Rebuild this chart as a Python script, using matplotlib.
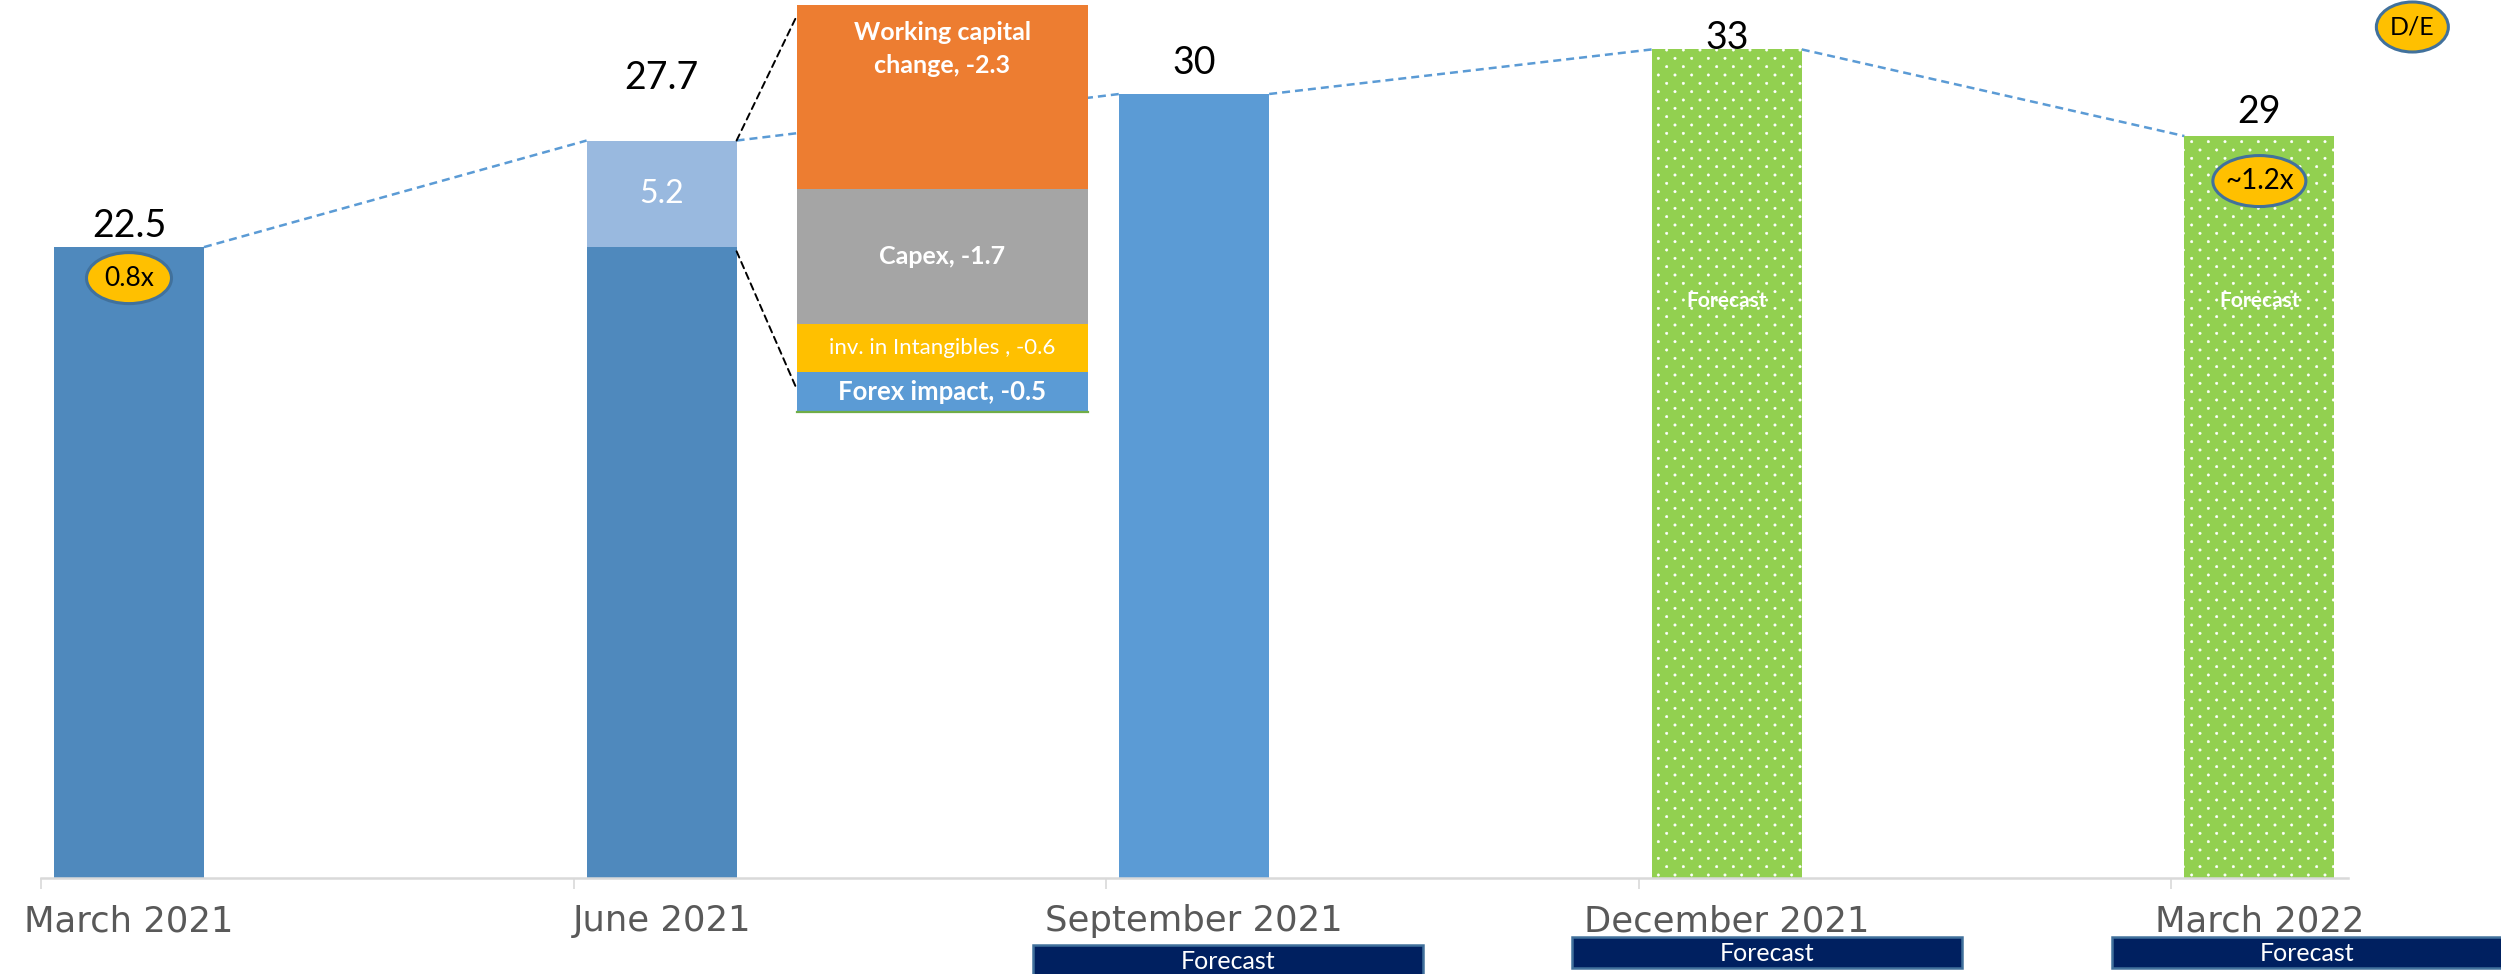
import numpy as np
import matplotlib
matplotlib.use("Agg")
import matplotlib.pyplot as plt
import matplotlib.hatch as mhatch
from matplotlib.patches import Ellipse, Rectangle, ConnectionPatch

# ---------------- data ----------------
periods = ["March 2021", "June 2021", "September 2021", "December 2021", "March 2022"]
value_labels = ["22.5", "27.7", "30", "33", "29"]
# bar tops as drawn in the picture (the original is not strictly to scale)
drawn_heights = [22.5, 26.3, 27.96, 29.55, 26.46]
june_base = 22.5
june_increase_label = "5.2"
forecast_flags = [False, False, True, True, True]
green_forecast = [False, False, False, True, True]

bridge_items = ["Working capital\nchange, -2.3", "Capex, -1.7",
                "inv. in Intangibles , -0.6", "Forex impact, -0.5"]
bridge_values = [-2.3, -1.7, -0.6, -0.5]

de_index = [0, 4]
de_labels = ["0.8x", "~1.2x"]

# ---------------- styles ----------------
W, H = 2501, 974
C_ACT = "#4F89BD"
C_INC = "#99B9DF"
C_SEP = "#5B9BD5"
C_GREEN = "#92D050"
bridge_colors = ["#ED7D31", "#A5A5A5", "#FFC000", "#5B9BD5"]
bridge_bold = [True, True, False, True]
bridge_sizes = [18, 18, 16, 18.5]
NAVY = "#002060"
EDGE = "#41719C"
YEL = "#FFC000"
FONT = ["Lato", "DejaVu Sans"]

plt.rcParams["hatch.linewidth"] = 0.4


# denser, Excel-like 5% dot pattern for the '.' hatch
try:
    class _DenseDots(mhatch.SmallFilledCircles):
        size = 0.07

        def __init__(self, hatch, density):
            super().__init__(hatch, density)
            n = self.num_rows
            if n == 0:
                self.num_shapes = 0
                self.num_vertices = 0
            else:
                self.num_shapes = (n + 1) * (n + 1) + n * n
                self.num_vertices = self.num_shapes * len(self.shape_vertices)

        def set_vertices_and_codes(self, vertices, codes):
            n = self.num_rows
            off = 1.0 / n
            sv = self.shape_vertices * off * self.size
            vp, cp = [], []
            for row in range(2 * n + 1):
                if row % 2 == 0:
                    cols = np.linspace(0, 1, n + 1)
                else:
                    cols = np.linspace(off / 2, 1 - off / 2, n)
                for c in cols:
                    vp.append(sv + [c, row * off / 2])
                    cp.append(self.shape_codes)
            np.concatenate(vp, out=vertices)
            np.concatenate(cp, out=codes)

    _idx = mhatch._hatch_types.index(mhatch.SmallFilledCircles)
    mhatch._hatch_types[_idx] = _DenseDots
except Exception:
    pass

fig = plt.figure(figsize=(W / 100, H / 100), dpi=100)
base_px = 96  # axis position from bottom in pixels
ax = fig.add_axes([0, base_px / H, 1, (H - base_px) / H])
ax.set_xlim(-0.2422, 4.4537)
ax.set_ylim(0, (H - base_px) / 28.04)
ax.patch.set_alpha(0)

x = np.arange(len(periods))
bw = 0.2816

# base bars
base_heights = [drawn_heights[0], june_base, drawn_heights[2]]
ax.bar(x[:3], base_heights, width=bw, color=[C_ACT, C_ACT, C_SEP], zorder=2)
ax.bar(x[1], drawn_heights[1] - june_base, bottom=june_base, width=bw,
       color=C_INC, zorder=2)
gx = [xi for xi, g in zip(x, green_forecast) if g]
gh = [h for h, g in zip(drawn_heights, green_forecast) if g]
ax.bar(gx, gh, width=bw, color=C_GREEN, edgecolor="white", linewidth=0,
       hatch=".", zorder=2)

# dashed trend line joining bar tops
for i in range(len(x) - 1):
    ax.plot([x[i] + bw / 2, x[i + 1] - bw / 2],
            [drawn_heights[i], drawn_heights[i + 1]],
            ls=(0, (3.2, 2.0)), color="#5B9BD5", lw=1.8, zorder=1)

# value labels
label_gap_px = [10, 52, 20, 0, 13]
for i, lab in enumerate(value_labels):
    ax.annotate(lab, (x[i], drawn_heights[i]), xytext=(0, label_gap_px[i] * 0.72),
                textcoords="offset points", ha="center", va="baseline",
                fontsize=27, family=FONT, color="black", zorder=5)
ax.text(x[1], (june_base + drawn_heights[1]) / 2, june_increase_label,
        ha="center", va="center", fontsize=23, color="white", family=FONT, zorder=5)

# "Forecast" text inside green bars
for xi in gx:
    ax.text(xi, 20.58, "Forecast", ha="center", va="center", fontsize=15,
            fontweight="bold", color="white", family=FONT, zorder=5)

# x axis
ax.set_xticks(x, periods)
ax.tick_params(axis="x", length=0, pad=19, labelsize=25.5, labelcolor="#595959")
ax.set_xticks(x - 0.1652, minor=True)
ax.tick_params(axis="x", which="minor", length=8, width=1.2, color="#D9D9D9")
for lab in ax.get_xticklabels():
    lab.set_family(["DejaVu Sans"])
ax.set_yticks([])
for s in ["left", "right", "top"]:
    ax.spines[s].set_visible(False)
ax.spines["bottom"].set_color("#D9D9D9")
ax.spines["bottom"].set_linewidth(1.8)
ax.spines["bottom"].set_bounds(x[0] - 0.1652, 4.166)

# pixel -> data helpers
xs = 532.6  # px per x unit
ys = 28.04  # px per y unit

# D/E ellipses
de_drop_px = [31, 45]
de_font = [19, 20]
de_w_px = [85, 93]
for k, i in enumerate(de_index):
    cy = drawn_heights[i] - de_drop_px[k] / ys
    ax.add_patch(Ellipse((x[i], cy), de_w_px[k] / xs, 51 / ys, facecolor=YEL,
                         edgecolor=EDGE, lw=2.2, zorder=6))
    ax.text(x[i], cy, de_labels[k], ha="center", va="center",
            fontsize=de_font[k], family=FONT, color="black", zorder=7)
# legend-like D/E marker
de_x = x[4] + (2412 - 2259) / xs
de_y = (H - base_px - 27) / ys
ax.add_patch(Ellipse((de_x, de_y), 72 / xs, 50 / ys, facecolor=YEL,
                     edgecolor=EDGE, lw=2.2, zorder=6, clip_on=False))
ax.text(de_x, de_y, "D/E", ha="center", va="center", fontsize=18,
        family=FONT, color="black", zorder=7)

# Forecast boxes under the axis
box_top_px = [945, 937, 937]
box_left = [-0.302, -0.291, -0.276]
fi = [i for i, f in enumerate(forecast_flags) if f]
for k, i in enumerate(fi):
    top = (H - base_px - box_top_px[k]) / ys
    hgt = 31 / ys
    ax.add_patch(Rectangle((x[i] + box_left[k], top - hgt), 390 / xs, hgt,
                           facecolor=NAVY, edgecolor=EDGE, lw=1.8,
                           clip_on=False, zorder=4))
    ax.text(x[i] + box_left[k] + 195 / xs, top - hgt / 2 - 0.05, "Forecast",
            ha="center", va="center", fontsize=18, color="white",
            family=FONT, zorder=5, clip_on=False)

# ---------------- bridge inset ----------------
iax = fig.add_axes([797 / W, (H - 412) / H, 291 / W, 407 / H])
total = sum(bridge_values)
iax.set_xlim(-0.5, 0.5)
iax.set_ylim(total, 0)
iax.axis("off")
bottoms = np.concatenate([[0], np.cumsum(bridge_values)[:-1]])
iax.bar(np.zeros(len(bridge_values)), bridge_values, bottom=bottoms, width=1.0,
        color=bridge_colors)
iax.axhline(total, color="#70AD47", lw=1.6, clip_on=False)
for k, (lab, v, b) in enumerate(zip(bridge_items, bridge_values, bottoms)):
    if k == 0:
        iax.text(0, b - 0.2, lab, ha="center", va="top", fontsize=bridge_sizes[k],
                 fontweight="bold", color="white", family=FONT, linespacing=1.55)
    else:
        iax.text(0, b + v / 2, lab, ha="center", va="center",
                 fontsize=bridge_sizes[k],
                 fontweight="bold" if bridge_bold[k] else "normal",
                 color="white", family=FONT)

# black dashed connectors from June increase to bridge box
con_top = ConnectionPatch(xyA=(x[1] + bw / 2, drawn_heights[1]), coordsA=ax.transData,
                          xyB=(-0.5, -0.13), coordsB=iax.transData,
                          ls=(0, (3.5, 2.5)), color="black", lw=1.4)
con_bot = ConnectionPatch(xyA=(x[1] + bw / 2, june_base - 0.15), coordsA=ax.transData,
                          xyB=(-0.5, total + 0.28), coordsB=iax.transData,
                          ls=(0, (3.5, 2.5)), color="black", lw=1.4)
fig.add_artist(con_top)
fig.add_artist(con_bot)

fig.savefig("out.png", dpi=100)
